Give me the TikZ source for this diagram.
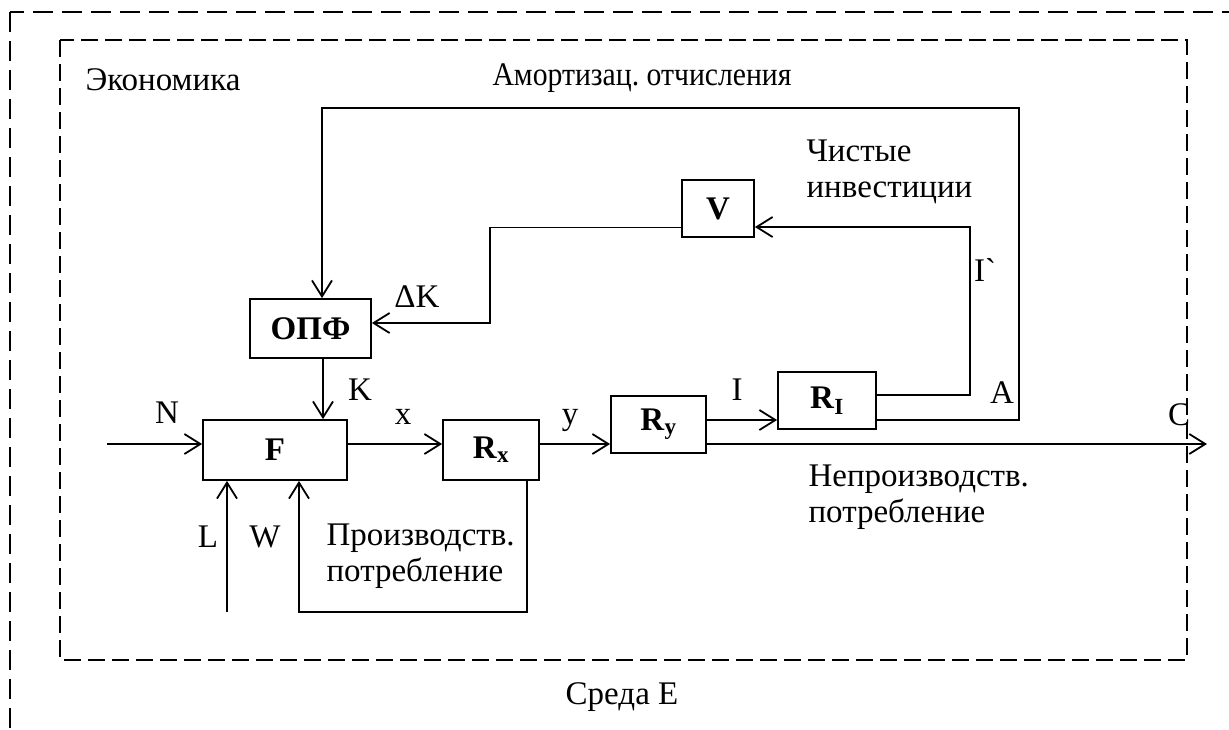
\documentclass[tikz,border=0pt]{standalone}
\usepackage{fontspec}
\setmainfont{Liberation Serif}
\newfontfamily\rawserif{Liberation Serif}
\usetikzlibrary{arrows.meta, positioning, calc}

\newcommand{\Rsub}[1]{\textbf{R}\textsubscript{\textbf{#1}}}
\frenchspacing

\begin{document}
\begin{tikzpicture}[
    x=1pt, y=-1pt,
    >={Straight Barb[length=16pt, width=20pt]},
    every node/.style={font=\fontsize{33}{36}\selectfont},
    blockbox/.style={
      draw, line width=1.8pt, inner sep=0pt,
      font=\fontsize{33}{36}\selectfont\bfseries
    },
    flow arrow/.style={->, line width=1.8pt},
    env border/.style={line width=1.8pt, dash pattern=on 20pt off 9pt},
    econ border/.style={line width=1.8pt, dash pattern=on 17pt off 7pt},
  ]

  \useasboundingbox (0,0) rectangle (1229,729);

  %% ---- borders: environment and economy ----
  \draw[env border] (10,12) rectangle (1265,765);
  \draw[econ border] (60,40) rectangle (1187,660);

  %% ---- blocks (centers, sizes in px) ----
  \node[blockbox, minimum width=144pt, minimum height=60pt] (F)   at (275,450)   {F};
  \node[blockbox, minimum width=121pt, minimum height=59pt] (OPF) at (310.5,328.5) {ОПФ};
  \node[blockbox, minimum width=96pt,  minimum height=60pt] (Rx)  at (491,450)   {\Rsub{x}};
  \node[blockbox, minimum width=95pt,  minimum height=57pt] (Ry)  at (658.5,424.5) {\Rsub{y}};
  \node[blockbox, minimum width=98pt,  minimum height=57pt] (RI)  at (827,400.5) {\Rsub{I}};
  \node[blockbox, minimum width=72pt,  minimum height=57pt] (V)   at (718,208.5) {V};

  %% ---- turning points of the connectors ----
  \coordinate (Nin)   at (107,444);
  \coordinate (Cend)  at (1207,444);
  \coordinate (Lin)   at (227,612);
  \coordinate (Wturn) at (299,612);
  \coordinate (Gturn) at (970,227);
  \coordinate (Aturn) at (1019,108);
  \coordinate (dKturn) at (490,323);

  %% ---- main line N -> F -> Rx -> Ry -> C ----
  \draw[flow arrow] (Nin) -- (F.west |- Nin);
  \draw[flow arrow] (F.east |- Cend) -- (Rx.west |- Cend);
  \draw[flow arrow] (Rx.east |- Cend) -- (Ry.west |- Cend);
  \draw[flow arrow] (Ry.east |- Cend) -- (Cend);

  % Ry -> RI
  \draw[flow arrow] ([yshift=4.5pt]Ry.east) -- ([yshift=4.5pt]Ry.east -| RI.west);

  %% ---- net investment loop: RI -> V -> OPF ----
  \draw[flow arrow] ([yshift=5.5pt]RI.east) -| (Gturn) -- (Gturn -| V.east);
  \draw[flow arrow] ([yshift=-19pt]V.west) -| (dKturn) -- (dKturn -| OPF.east);

  %% ---- depreciation loop: RI -> OPF ----
  \draw[flow arrow] ([yshift=-19.5pt]RI.east) -| (Aturn)
    -| ([xshift=11.5pt]OPF.north);

  % OPF -> F
  \draw[flow arrow] ([xshift=12.5pt]OPF.south) -- ([xshift=12.5pt]OPF.south |- F.north);

  %% ---- inputs from below ----
  \draw[flow arrow] (Lin) -- (Lin |- F.south);
  \draw[flow arrow] ([xshift=36pt]Rx.south) |- (Wturn) -- (Wturn |- F.south);

  %% ---- labels ----
  \node[anchor=west] (econ) at (82,80) {Экономика};
  \node[anchor=west] (amort) at (489,78) {\scalebox{0.9}[1]{Амортизац. отчисления}};
  \node[anchor=west, align=left] (netinv) at (803,172) {Чистые\\инвестиции};
  \node[anchor=west, align=left] (nonprod) at (805,497) {Непроизводств.\\потребление};
  \node[anchor=west, align=left] (prod) at (323,556) {Производств.\\потребление};
  \node (env) at (622,697) {Среда E};

  \node (lN)  at (167,413) {N};
  \node (lK)  at (360,390) {K};
  \node (ldK) at (417,297) {ΔK};
  \node (lx)  at (403,417) {x};
  \node (ly)  at (570,420) {y};
  \node (lI)  at (737,390) {I};
  \node (lA)  at (1002,393) {A};
  \node (lC)  at (1179,415) {C};
  \node (lL)  at (208,537) {L};
  \node (lW)  at (265,537) {W};
  \node (lIp) at (985,270) {{\rawserif I`}};

\end{tikzpicture}
\end{document}
